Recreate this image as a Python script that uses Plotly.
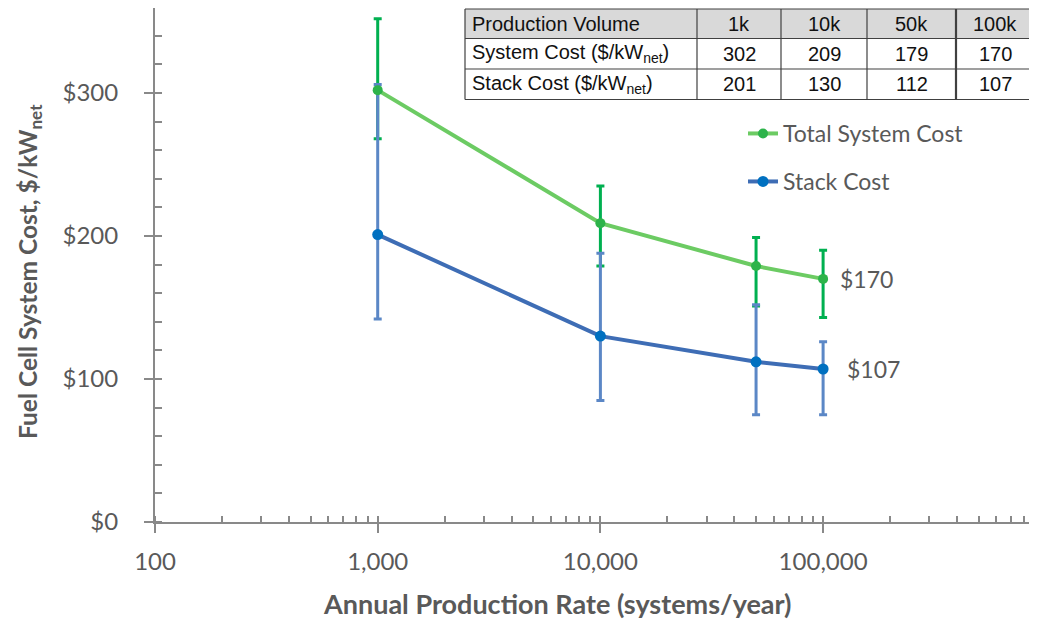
import math
import plotly.graph_objects as go

# ---- data ----
volumes = [1000, 10000, 50000, 100000]
volume_labels = ["1k", "10k", "50k", "100k"]
system_cost = [302, 209, 179, 170]
stack_cost = [201, 130, 112, 107]
system_hi = [352, 235, 199, 190]
system_lo = [268, 179, 151, 143]
stack_hi = [306, 188, 152, 126]
stack_lo = [142, 85, 75, 75]

x_ticks = [100, 1000, 10000, 100000]
x_tick_labels = ["100", "1,000", "10,000", "100,000"]

table_header = "Production Volume"
table_rows = ["System Cost ($/kW<sub>net</sub>)", "Stack Cost ($/kW<sub>net</sub>)"]

# ---- styling ----
OFF = 8  # page body margin
W, H = 1037 - OFF, 612
ML, MR, MT = 155 - OFF, 1, 0
PLOT_BOTTOM = 522 - OFF
MB = H - PLOT_BOTTOM
PW, PH = W - ML - MR, H - MT - MB
GRAY = "#595959"
AXIS = "#898989"
G_LINE, G_MARK, G_ERR = "#6CCB63", "#2DB34A", "#00B050"
B_LINE, B_MARK, B_ERR = "#3E6DB5", "#0070C0", "#5B87C6"
FONT = "Lato"
TFONT = "Liberation Sans"
DECADE_PX = 222.7
PX_PER_UNIT = 1.43
XRANGE = [2, 2 + (1036 - 155) / DECADE_PX]

# table geometry in page pixels
COL_EDGES = [465, 697, 781, 867, 956, 1034]
ROW_EDGES = [9, 38.5, 69, 99.5]


def px_x(p):
    return (p - OFF - ML) / PW


def px_y(p):
    return (PLOT_BOTTOM - (p - OFF)) / PH


fig = go.Figure()

# error bars (green first, blue above)
fig.add_trace(go.Scatter(
    x=volumes, y=system_cost, mode="markers", marker=dict(opacity=0, size=1),
    showlegend=False, hoverinfo="skip",
    error_y=dict(type="data", symmetric=False,
                 array=[h - v for h, v in zip(system_hi, system_cost)],
                 arrayminus=[v - l for l, v in zip(system_lo, system_cost)],
                 color=G_ERR, thickness=3, width=4)))
fig.add_trace(go.Scatter(
    x=volumes, y=stack_cost, mode="markers", marker=dict(opacity=0, size=1),
    showlegend=False, hoverinfo="skip",
    error_y=dict(type="data", symmetric=False,
                 array=[h - v for h, v in zip(stack_hi, stack_cost)],
                 arrayminus=[v - l for l, v in zip(stack_lo, stack_cost)],
                 color=B_ERR, thickness=3, width=4)))

fig.add_trace(go.Scatter(
    x=volumes, y=stack_cost, mode="lines+markers", name="Stack Cost",
    line=dict(color=B_LINE, width=4), marker=dict(color=B_MARK, size=11),
    legend="legend2"))
fig.add_trace(go.Scatter(
    x=volumes, y=system_cost, mode="lines+markers", name="Total System Cost",
    line=dict(color=G_LINE, width=4), marker=dict(color=G_MARK, size=10),
    legend="legend"))

# ---- table built from shapes + annotations ----
shapes = []
annotations = []
x0, x1 = px_x(COL_EDGES[0]), px_x(COL_EDGES[-1])
shapes.append(dict(type="rect", xref="paper", yref="paper", layer="above",
                   x0=x0, x1=x1, y0=px_y(ROW_EDGES[1]), y1=px_y(ROW_EDGES[0]),
                   fillcolor="#D9D9D9", line=dict(width=0)))
shapes.append(dict(type="rect", xref="paper", yref="paper", layer="above",
                   x0=x0, x1=x1, y0=px_y(ROW_EDGES[-1]), y1=px_y(ROW_EDGES[1]),
                   fillcolor="white", line=dict(width=0)))
for i, yy in enumerate(ROW_EDGES):
    shapes.append(dict(type="line", xref="paper", yref="paper", layer="above",
                       x0=x0, x1=x1, y0=px_y(yy), y1=px_y(yy),
                       line=dict(color="#404040", width=1.2)))
for j, xx in enumerate(COL_EDGES):
    shapes.append(dict(type="line", xref="paper", yref="paper", layer="above",
                       x0=px_x(xx), x1=px_x(xx), y0=px_y(ROW_EDGES[-1]), y1=px_y(ROW_EDGES[0]),
                       line=dict(color="#404040", width=2.2 if j == 4 else 1.2)))

table_cols = [[table_header] + table_rows]
for lab, s, k in zip(volume_labels, system_cost, stack_cost):
    table_cols.append([lab, str(s), str(k)])
for j, col in enumerate(table_cols):
    for i, txt in enumerate(col):
        yc = (ROW_EDGES[i] + ROW_EDGES[i + 1]) / 2
        if j == 0:
            xa, anchor = px_x(COL_EDGES[0] + 5), "left"
        else:
            xa, anchor = px_x((COL_EDGES[j] + COL_EDGES[j + 1]) / 2), "center"
        annotations.append(dict(x=xa, y=px_y(yc), xref="paper", yref="paper",
                                text=txt, showarrow=False, xanchor=anchor,
                                yanchor="middle",
                                font=dict(family=TFONT, size=20, color="#111111")))

annotations += [
    dict(x=math.log10(volumes[-1]), y=system_cost[-1], xref="x", yref="y",
         text=f"${system_cost[-1]}", showarrow=False, xanchor="left",
         xshift=15, font=dict(family=FONT, size=23, color=GRAY)),
    dict(x=math.log10(volumes[-1]), y=stack_cost[-1], xref="x", yref="y",
         text=f"${stack_cost[-1]}", showarrow=False, xanchor="left",
         xshift=22, font=dict(family=FONT, size=23, color=GRAY)),
    dict(x=px_x(557), y=px_y(604), xref="paper", yref="paper",
         text="<b>Annual Production Rate (systems/year)</b>", showarrow=False,
         xanchor="center", yanchor="middle",
         font=dict(family=FONT, size=27, color=GRAY)),
    dict(x=px_x(29), y=px_y(272), xref="paper", yref="paper",
         text="<b>Fuel Cell System Cost, $/kW<sub>net</sub></b>", showarrow=False,
         textangle=-90, xanchor="center", yanchor="middle",
         font=dict(family=FONT, size=24.5, color=GRAY)),
]

fig.update_layout(
    width=W, height=H,
    margin=dict(l=ML, r=MR, t=MT, b=MB, autoexpand=False),
    paper_bgcolor="white", plot_bgcolor="white",
    font=dict(family=FONT, color=GRAY),
    annotations=annotations,
    shapes=shapes,
    legend=dict(x=px_x(743), y=px_y(112), xanchor="left", yanchor="top",
                bgcolor="rgba(0,0,0,0)", font=dict(family=FONT, size=23, color=GRAY)),
    legend2=dict(x=px_x(743), y=px_y(160), xanchor="left", yanchor="top",
                 bgcolor="rgba(0,0,0,0)", font=dict(family=FONT, size=23, color=GRAY)),
    xaxis=dict(type="log", range=XRANGE,
               tickvals=x_ticks, ticktext=x_tick_labels,
               showline=True, linecolor=AXIS, linewidth=2, mirror=True,
               ticks="outside", ticklen=9, tickwidth=2, tickcolor=AXIS,
               ticklabelstandoff=8,
               minor=dict(ticks="inside", ticklen=6, tickwidth=1.5, tickcolor=AXIS,
                          dtick="D1", showgrid=False),
               showgrid=False, zeroline=False,
               tickfont=dict(family=FONT, size=24, color=GRAY)),
    xaxis2=dict(type="log", range=XRANGE, overlaying="x", anchor="y", side="bottom",
                tickvals=x_ticks, ticks="inside", ticklen=9, tickwidth=2,
                tickcolor=AXIS, showticklabels=False, showline=False,
                showgrid=False, zeroline=False),
    yaxis=dict(range=[0, (522 - 8) / PX_PER_UNIT], dtick=100, tickprefix="$",
               showline=True, linecolor=AXIS, linewidth=2,
               ticks="outside", ticklen=9, tickwidth=2, tickcolor=AXIS,
               ticklabelstandoff=21,
               minor=dict(ticks="inside", ticklen=7, tickwidth=1.5, tickcolor=AXIS,
                          dtick=20, showgrid=False),
               showgrid=False, zeroline=False,
               tickfont=dict(family=FONT, size=24, color=GRAY)),
)

fig.write_html("out.html")
